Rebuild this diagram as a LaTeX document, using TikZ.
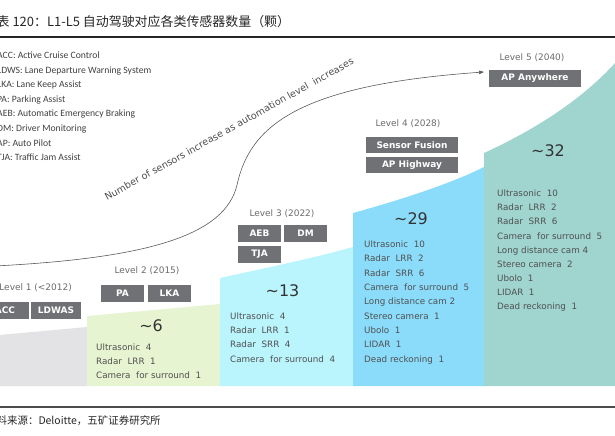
\documentclass[tikz,border=0pt]{standalone}
\usepackage{fontspec}
\setmainfont{DejaVu Sans}
\newfontfamily\cjk{Noto Sans CJK SC}
\newfontfamily\legendfont{Carlito}
\usetikzlibrary{arrows.meta}
\definecolor{tagfill}{HTML}{707174}
\definecolor{lvltext}{HTML}{6B6B6B}
\definecolor{listtext}{HTML}{505050}
\definecolor{lone}{HTML}{E3E3E5}
\definecolor{ltwo}{HTML}{E7F4D1}
\definecolor{lthree}{HTML}{BAF4FC}
\definecolor{lfour}{HTML}{8BDCFA}
\definecolor{lfive}{HTML}{9FD4CF}
\tikzset{
  featbox/.style={fill=tagfill, text=white, font=\fontsize{9}{10}\selectfont\bfseries,
    minimum width=43bp, minimum height=17bp, inner sep=0pt},
  widebox/.style={featbox, minimum width=92bp},
  lvl/.style={text=lvltext, font=\fontsize{9}{10}\selectfont, inner sep=0pt},
  total/.style={text=black!80, font=\fontsize{16}{18}\selectfont, inner sep=0pt},
  sensors/.style={anchor=north west, align=left, text=listtext,
    font=\fontsize{8.8}{14.2}\selectfont, inner sep=0pt},
  legend/.style={anchor=north west, align=left, text=black!75,
    font=\legendfont\fontsize{9.7}{14.7}\selectfont, inner sep=0pt},
}
\begin{document}
\begin{tikzpicture}[x=1bp, y=-1bp]
        \useasboundingbox (0,0) rectangle (615,436);
        \clip (0,0) rectangle (615,436);
        \node[anchor=base west, inner sep=0pt, text=black!85,
          font=\cjk\fontsize{13}{14}\selectfont] (title) at (-3.5,27)
          {表 120：L1-L5 自动驾驶对应各类传感器数量（颗）};
        \draw[line width=1.3bp, black!85] (0,37) -- (615,37);
        \draw[line width=1.3bp, black!70] (0,407) -- (615,407);
        \node[anchor=base west, inner sep=0pt, text=black!85,
          font=\cjk\fontsize{10.5}{12}\selectfont] (source) at (-14,424)
          {资料来源：Deloitte，五矿证券研究所};

        % stepped areas
        \fill[lone] (-1,335) -- (87,327) -- (87,386) -- (-1,386) -- cycle;
        \fill[ltwo] (87,316) -- (220,304) -- (220,386) -- (87,386) -- cycle;
        \fill[lthree] (220,278) .. controls (265,268) and (310,259) .. (353,247)
          -- (353,386) -- (220,386) -- cycle;
        \fill[lfour] (353,213) .. controls (400,200) and (450,184) .. (484,167)
          -- (484,386) -- (353,386) -- cycle;
        \fill[lfive] (484,153) .. controls (530,132) and (580,102) .. (616,62)
          -- (616,386) -- (484,386) -- cycle;

        \node[legend] (legend) at (-3,51.5) {ACC: Active Cruise Control\\
          LDWS: Lane Departure Warning System\\LKA: Lane Keep Assist\\
          PA: Parking Assist\\AEB: Automatic Emergency Braking\\
          DM: Driver Monitoring\\AP: Auto Pilot\\TJA: Traffic Jam Assist};

        \coordinate (start) at (-5,266);
        \coordinate (tip) at (484,72);
        \draw[black!65, line width=0.6bp, -{Triangle[length=5bp,width=3.5bp]}]
          (start) .. controls (150,258) and (225,235) .. (237,185)
          .. controls (250,125) and (300,85) .. (tip);
        \node[rotate=29, text=black!70, font=\fontsize{9.6}{10}\selectfont, inner sep=0pt]
          (trend) at (229,129) {Number of sensors increase as automation level\ \ increases};

        % level 1
        \node[lvl, anchor=east] (l1) at (72,288) {Level 1 (<2012)};
        \node[featbox, minimum width=48bp] (acc) at (5,310) {ACC};
        \node[featbox, minimum width=50bp] (ldwas) at (56,310) {LDWAS};

        % level 2
        \node[lvl] (l2) at (147,271) {Level 2 (2015)};
        \node[featbox] (pa) at (122.5,293.5) {PA};
        \node[featbox] (lka) at (169.5,293.5) {LKA};
        \node[total] (n2) at (151,326) {∼6};
        \node[sensors] (s2) at (96,343.7) {Ultrasonic\ \ 4\\Radar\ \ LRR\ \ 1\\
          Camera\ \ for surround\ \ 1};

        % level 3
        \node[lvl] (l3) at (282,214) {Level 3 (2022)};
        \node[featbox] (aeb) at (259.5,233.5) {AEB};
        \node[featbox] (dm) at (305.5,233.5) {DM};
        \node[featbox] (tja) at (259.5,254.5) {TJA};
        \node[total] (n3) at (282.5,291) {∼13};
        \node[sensors] (s3) at (230,312.7) {Ultrasonic\ \ 4\\Radar\ \ LRR\ \ 1\\
          Radar\ \ SRR\ \ 4\\Camera\ \ for surround\ \ 4};

        % level 4
        \node[lvl] (l4) at (408,124) {Level 4 (2028)};
        \node[widebox, minimum height=16bp] (fusion) at (412,145) {Sensor Fusion};
        \node[widebox, minimum height=16bp] (aphw) at (412,165.5) {AP Highway};
        \node[total] (n4) at (411,219) {∼29};
        \node[sensors, font=\fontsize{8.8}{14.4}\selectfont] (s4) at (364,240.7)
          {Ultrasonic\ \ 10\\Radar\ \ LRR\ \ 2\\Radar\ \ SRR\ \ 6\\
          Camera\ \ for surround\ \ 5\\Long distance cam 2\\Stereo camera\ \ 1\\
          Ubolo\ \ 1\\LIDAR\ \ 1\\Dead reckoning\ \ 1};

        % level 5
        \node[lvl] (l5) at (532,58) {Level 5 (2040)};
        \node[widebox] (apany) at (535,78.5) {AP\ Anywhere};
        \node[total] (n5) at (548,151) {∼32};
        \node[sensors] (s5) at (497,189.7)
          {Ultrasonic\ \ 10\\Radar\ \ LRR\ \ 2\\Radar\ \ SRR\ \ 6\\
          Camera\ \ for surround\ \ 5\\Long distance cam 4\\Stereo camera\ \ 2\\
          Ubolo\ \ 1\\LIDAR\ \ 1\\Dead reckoning\ \ 1};
\end{tikzpicture}
\end{document}
